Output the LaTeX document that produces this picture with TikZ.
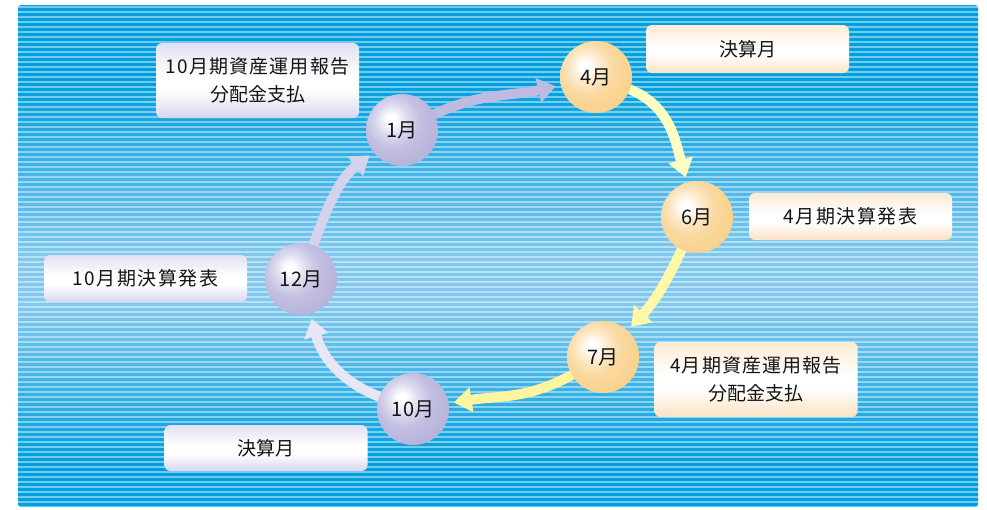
\documentclass[tikz,border=0pt]{standalone}
\usepackage{fontspec}
\newfontfamily\jp{Noto Sans CJK JP}
\usetikzlibrary{arrows.meta}
\definecolor{bgdark}{RGB}{0,160,224}
\definecolor{bglight}{RGB}{128,200,238}
\definecolor{pball}{RGB}{184,180,220}
\definecolor{oball}{RGB}{249,210,142}
\definecolor{pbox}{RGB}{216,214,238}
\definecolor{obox}{RGB}{252,226,194}
\definecolor{txt}{RGB}{20,20,20}
\definecolor{pa1}{RGB}{230,230,244}
\definecolor{pa2}{RGB}{212,210,236}
\definecolor{pa3}{RGB}{190,186,224}
\definecolor{ya1}{RGB}{255,252,196}
\definecolor{ya2}{RGB}{255,248,168}
\definecolor{ya3}{RGB}{255,245,158}
\pgfdeclareverticalshading{bgshade}{100bp}{color(0bp)=(bgdark); color(25bp)=(bgdark); color(30bp)=(bgdark); color(45bp)=(bglight); color(50bp)=(bglight); color(67bp)=(bgdark); color(75bp)=(bgdark); color(100bp)=(bgdark)}
\pgfdeclareverticalshading{pboxshade}{100bp}{color(0bp)=(pbox); color(25bp)=(pbox); color(44bp)=(white); color(52bp)=(white); color(75bp)=(pbox!75!white); color(100bp)=(pbox!75!white)}
\pgfdeclareverticalshading{oboxshade}{100bp}{color(0bp)=(obox); color(25bp)=(obox); color(44bp)=(white); color(52bp)=(white); color(75bp)=(obox!70!white); color(100bp)=(obox!70!white)}
\pgfdeclareradialshading{pballshade}{\pgfpoint{-8bp}{8bp}}{color(0bp)=(white); color(3bp)=(white); color(11bp)=(pball!50!white); color(19bp)=(pball!85!white); color(30bp)=(pball); color(100bp)=(pball)}
\pgfdeclareradialshading{oballshade}{\pgfpoint{-8bp}{8bp}}{color(0bp)=(white); color(3bp)=(white); color(11bp)=(oball!50!white); color(19bp)=(oball!85!white); color(30bp)=(oball); color(100bp)=(oball)}
\pgfdeclarelayer{bglayer}
\pgfdeclarelayer{arrowlayer}
\pgfsetlayers{bglayer,arrowlayer,main}
\begin{document}
\begin{tikzpicture}[x=1pt,y=1pt,
  ball/.style={circle, minimum size=72pt, inner sep=0pt, text=txt, font=\jp\fontsize{20pt}{20pt}\selectfont},
  pb/.style={ball, shading=pballshade},
  ob/.style={ball, shading=oballshade},
  infobox/.style={rounded corners=6pt, minimum width=203pt, inner sep=0pt, align=center, text=txt, font=\jp\fontsize{19pt}{28pt}\selectfont},
  pbx/.style={infobox, shading=pboxshade},
  obx/.style={infobox, shading=oboxshade},
  arr/.style={line width=10pt, -{Triangle[width=24pt,length=18pt]}, shorten >=5pt, shorten <=-4pt}
]
\useasboundingbox (0,0) rectangle (987,-509);
\begin{pgfonlayer}{bglayer}
  \path[shading=bgshade, rounded corners=3pt] (18,-5) rectangle (978,-507);
  \begin{scope}
    \clip[rounded corners=3pt] (18,-5) rectangle (978,-507);
    \foreach \k in {0,...,100} \draw[white, opacity=0.45, line width=2pt] (18,-7-5*\k) -- (978,-7-5*\k);
  \end{scope}
\end{pgfonlayer}

% month spheres
\node[ob] (m4)  at (596,-77)  {4月};
\node[ob] (m6)  at (697,-217) {6月};
\node[ob] (m7)  at (603,-357) {7月};
\node[pb] (m10) at (413,-409) {10月};
\node[pb] (m12) at (301,-279) {12月};
\node[pb] (m1)  at (402,-130) {1月};

% info boxes
\node[pbx, minimum height=75pt] (b1) at (257.5,-80.5) {{\addfontfeature{LetterSpace=6}10月期資産運用報告}\\分配金支払};
\node[obx, minimum height=48pt] (b2) at (747.5,-49) {決算月};
\node[obx, minimum height=47pt] (b3) at (850.5,-216.5) {\addfontfeature{LetterSpace=8}4月期決算発表};
\node[obx, minimum height=75pt] (b4) at (756,-379.5) {{\addfontfeature{LetterSpace=6}4月期資産運用報告}\\分配金支払};
\node[pbx, minimum height=47pt] (b5) at (145.5,-278.5) {\addfontfeature{LetterSpace=8}10月期決算発表};
\node[pbx, minimum height=46pt] (b6) at (266,-448) {決算月};

\begin{pgfonlayer}{arrowlayer}
  \draw[arr, color=ya1] (m4)  to[out=-20, in=106] (m6);
  \draw[arr, color=ya2] (m6)  to[out=245, in=47]  (m7);
  \draw[arr, color=ya3] (m7)  to[out=210, in=9]   (m10);
  \draw[arr, color=pa1] (m10) to[out=160, in=-75] (m12);
  \draw[arr, color=pa2] (m12) to[out=70,  in=218] (m1);
  \draw[arr, color=pa3] (m1)  to[out=26,  in=193] (m4);
\end{pgfonlayer}
\end{tikzpicture}
\end{document}
